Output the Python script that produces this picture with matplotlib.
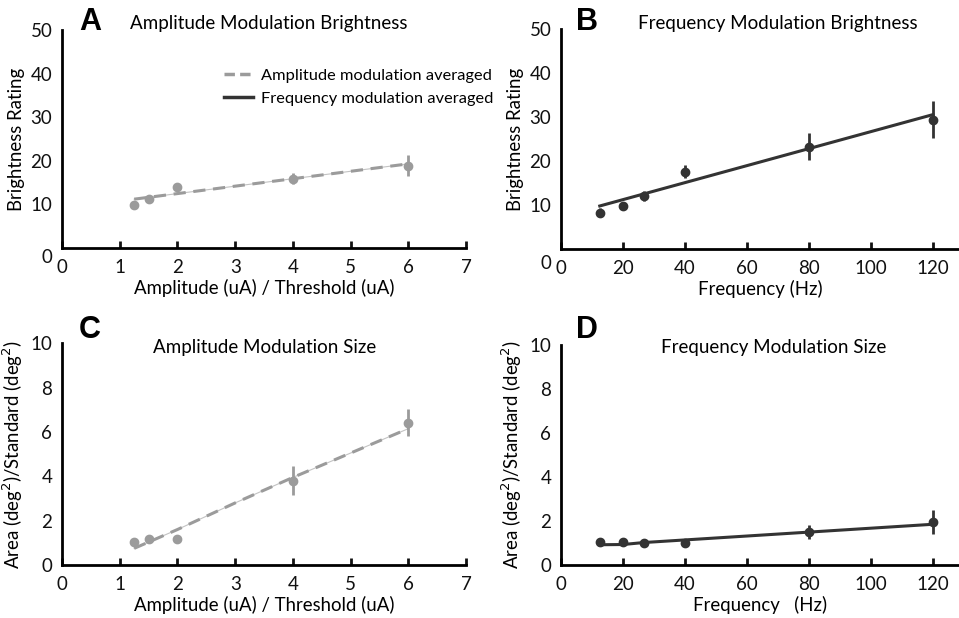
#!/usr/bin/env python

import numpy as np
import matplotlib
matplotlib.use("Agg")
import matplotlib.pyplot as plt
from matplotlib.lines import Line2D
from matplotlib.transforms import ScaledTranslation

plt.rcParams['font.family'] = ['Lato', 'DejaVu Sans']

# Panneaux A et C : modulation d'amplitude
amp_x = [1.25, 1.5, 2, 4, 6]
amp_bright = [9.8, 11.3, 14.1, 15.9, 18.9]
amp_bright_err = [0.4, 0.4, 0.5, 1.3, 2.5]
amp_bright_fit_x = [1.25, 6]
amp_bright_fit_y = [11.2, 19.3]

amp_size = [1.02, 1.15, 1.15, 3.8, 6.42]
amp_size_err = [0.05, 0.05, 0.05, 0.66, 0.62]
amp_size_fit_x = [1.25, 2, 3, 4, 5, 6]
amp_size_fit_y = [0.75, 1.6, 2.8, 3.95, 5.05, 6.15]

# Panneaux B et D : modulation de fréquence
freq_x = [12.5, 20, 26.7, 40, 80, 120]
freq_bright = [8.3, 9.8, 12.1, 17.6, 23.3, 29.4]
freq_bright_err = [1.0, 0.5, 1.2, 1.5, 3.0, 4.2]
freq_bright_fit_x = [12.5, 120]
freq_bright_fit_y = [9.8, 30.6]

freq_size = [1.03, 1.03, 0.99, 0.99, 1.5, 1.95]
freq_size_err = [0.05, 0.05, 0.05, 0.05, 0.33, 0.56]
freq_size_fit_x = [12.5, 20, 26.7, 120]
freq_size_fit_y = [0.92, 0.93, 1.02, 1.85]

GRIS = "#9b9b9b"
FONCE = "#333333"

fig = plt.figure(figsize=(9.59, 6.18), dpi=100)

axA = fig.add_axes([0.0647, 0.5987, 0.4213, 0.3528])
axB = fig.add_axes([0.585, 0.597, 0.415, 0.3555])
axC = fig.add_axes([0.0647, 0.0858, 0.4213, 0.3587])
axD = fig.add_axes([0.585, 0.0858, 0.415, 0.356])


def styleAxe(ax, xlim, xticks, ylim, yticks, xlabel, ylabel, decalageZero=0):
	ax.set_xlim(*xlim)
	ax.set_ylim(*ylim)
	ax.set_xticks(xticks)
	ax.set_yticks(yticks)
	ax.spines["top"].set_visible(False)
	ax.spines["right"].set_visible(False)
	ax.spines["left"].set_linewidth(2)
	ax.spines["bottom"].set_linewidth(2)
	ax.tick_params(axis="x", direction="in", length=5, width=2, pad=8, labelsize=13.5, colors="#111111")
	ax.tick_params(axis="y", length=0, pad=7, labelsize=13.5, colors="#111111")
	ax.set_xlabel(xlabel, fontsize=13.4, labelpad=2)
	ax.set_ylabel(ylabel, fontsize=13.4, labelpad=4)
	# le "0" de l'axe y est un peu plus bas dans la figure d'origine
	if decalageZero:
		lab = ax.get_yticklabels()[0]
		lab.set_transform(lab.get_transform() + ScaledTranslation(0, -decalageZero / 100, fig.dpi_scale_trans))


def trace(ax, x, y, err, fx, fy, couleur, style):
	ax.plot(fx, fy, color=couleur, lw=0.8, alpha=0.6, zorder=2)
	ax.plot(fx, fy, color=couleur, lw=2.2, linestyle=style, zorder=3)
	ax.errorbar(x, y, yerr=err, fmt="o", color=couleur, ms=6, elinewidth=2, capsize=0, zorder=4)


trace(axA, amp_x, amp_bright, amp_bright_err, amp_bright_fit_x, amp_bright_fit_y, GRIS, (0, (4, 2.5)))
styleAxe(axA, (0, 7), range(0, 8), (0, 50), range(0, 51, 10),
	"Amplitude (uA) / Threshold (uA)", "Brightness Rating", decalageZero=8)

trace(axB, freq_x, freq_bright, freq_bright_err, freq_bright_fit_x, freq_bright_fit_y, FONCE, "-")
styleAxe(axB, (0, 128.4), range(0, 121, 20), (0, 50), range(0, 51, 10),
	"Frequency (Hz)", "Brightness Rating", decalageZero=13)

trace(axC, amp_x, amp_size, amp_size_err, amp_size_fit_x, amp_size_fit_y, GRIS, (0, (4, 2.5)))
styleAxe(axC, (0, 7), range(0, 8), (0, 10), range(0, 11, 2),
	"Amplitude (uA) / Threshold (uA)", "Area (deg$^2$)/Standard (deg$^2$)")

trace(axD, freq_x, freq_size, freq_size_err, freq_size_fit_x, freq_size_fit_y, FONCE, "-")
styleAxe(axD, (0, 128.4), range(0, 121, 20), (0, 10), range(0, 11, 2),
	"Frequency   (Hz)", "Area (deg$^2$)/Standard (deg$^2$)")

# Titres et lettres des panneaux
titres = [
	("A", 90, 22, "Amplitude Modulation Brightness", 269, 24),
	("B", 587, 22, "Frequency Modulation Brightness", 778, 24),
	("C", 90, 330, "Amplitude Modulation Size", 265, 347),
	("D", 587, 330, "Frequency Modulation Size", 774, 347),
]
W, H = 959, 618
for lettre, lx, ly, titre, tx, ty in titres:
	fig.text(lx / W, 1 - ly / H, lettre, fontsize=22, fontweight="bold",
		family=["Liberation Sans", "DejaVu Sans"], ha="center", va="center")
	fig.text(tx / W, 1 - ty / H, titre, fontsize=13.5, ha="center", va="center")

# Légende
poignees = [
	Line2D([], [], color=GRIS, lw=2.5, linestyle=(0, (3, 1.5))),
	Line2D([], [], color=FONCE, lw=2.5),
]
fig.legend(poignees, ["Amplitude modulation averaged", "Frequency modulation averaged"],
	loc="upper left", bbox_to_anchor=(209 / W, 1 - 54 / H), frameon=False,
	fontsize=11.8, handlelength=1.8, handletextpad=0.5, labelspacing=0.5)

fig.savefig("out.png", dpi=100)
